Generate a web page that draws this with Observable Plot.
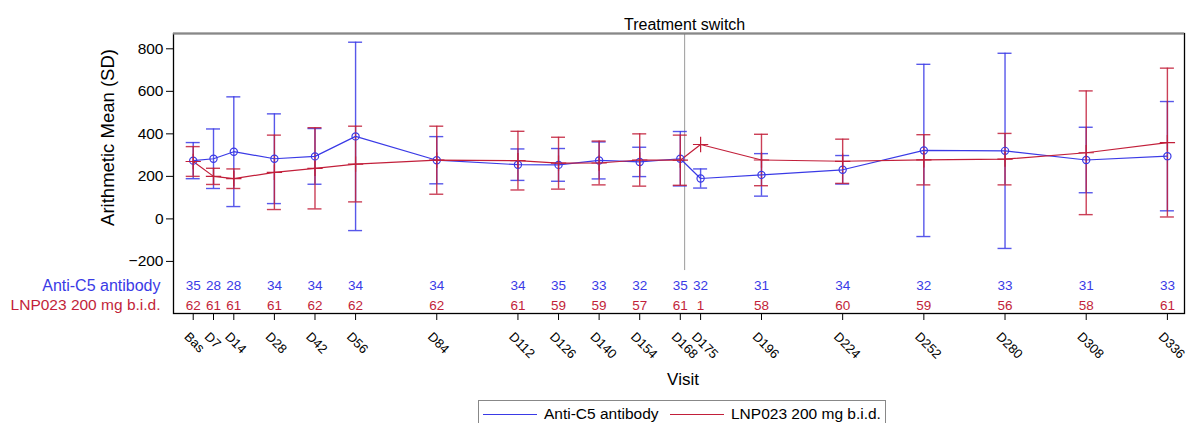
<!DOCTYPE html>
<html>
<head>
<meta charset="utf-8">
<script src="https://cdn.jsdelivr.net/npm/d3@7"></script>
<script src="https://cdn.jsdelivr.net/npm/@observablehq/plot@0.6"></script>
<style>
  html, body { margin: 0; padding: 0; background: #fff; }
  body { font-family: "Liberation Sans", Arial, sans-serif; width: 1191px; height: 423px; overflow: hidden; position: relative; }
  #legend { position: absolute; left: 478px; top: 400px; width: 408px; height: 30px; border: 1px solid #888; box-sizing: border-box; font-size: 15.5px; color: #000; }
  #legend .item { position: absolute; top: 4px; display: flex; align-items: center; }
  #legend .sw { display: inline-block; width: 54px; height: 0; border-top: 1.3px solid; margin-right: 7px; }
</style>
</head>
<body>
<div id="chart"></div>
<div id="legend"></div>
<script>
// ---- data ----
const visits = ["Bas","D7","D14","D28","D42","D56","D84","D112","D126","D140","D154","D168","D175","D196","D224","D252","D280","D308","D336"];
const days   = [0,7,14,28,42,56,84,112,126,140,154,168,175,196,224,252,280,308,336];
const antiMean = [274,283,316,283,294,388,276,255,254,275,268,283,190,207,231,322,320,277,295];
const antiSD   = [85,140,258,211,131,443,111,74,77,87,69,128,45,100,67,405,459,154,257];
const lnpMean  = [270,200,189,219,238,258,276,274,262,263,277,276,350,277,271,278,281,311,359];
const lnpSD    = [70,38,46,175,191,178,160,138,122,103,123,118,null,121,104,118,121,291,350];
const antiN = [35,28,28,34,34,34,34,34,35,33,32,35,32,31,34,32,33,31,33];
const lnpN  = [62,61,61,61,62,62,62,61,59,59,57,61,1,58,60,59,56,58,61];
const yTicks = [-200,0,200,400,600,800];
const seriesNames = ["Anti-C5 antibody","LNP023 200 mg b.i.d."];
const switchDay = 169.5;
const switchLabel = "Treatment switch";

const BLUE = "#3a3ae6";
const RED = "#c21f3a";

const anti = days.map((d,i)=>({day:d, visit:visits[i], mean:antiMean[i], sd:antiSD[i], n:antiN[i]}));
const lnp  = days.map((d,i)=>({day:d, visit:visits[i], mean:lnpMean[i], sd:lnpSD[i], n:lnpN[i]}));
const lnpBars = lnp.filter(d => d.sd != null);

function errorMarks(data, color) {
  return [
    Plot.ruleX(data, {x:"day", y1: d=>d.mean-d.sd, y2: d=>d.mean+d.sd, stroke: color, strokeWidth: 1.4, strokeOpacity: 0.85}),
    Plot.ruleY(data, {y: d=>d.mean+d.sd, x1:"day", x2:"day", insetLeft:-7, insetRight:-7, stroke: color, strokeWidth: 1.4, strokeOpacity: 0.85}),
    Plot.ruleY(data, {y: d=>d.mean-d.sd, x1:"day", x2:"day", insetLeft:-7, insetRight:-7, stroke: color, strokeWidth: 1.4, strokeOpacity: 0.85})
  ];
}

const chart = Plot.plot({
  width: 1191,
  height: 398,
  marginLeft: 173,
  marginRight: 7,
  marginTop: 33,
  marginBottom: 85,
  style: {fontFamily: "'Liberation Sans', Arial, sans-serif", color: "#000", background: "#fff"},
  x: {domain: [-6.8, 341.9]},
  y: {domain: [-445, 872]},
  marks: [
    Plot.ruleX([switchDay], {y1: 872, y2: -243, stroke: "#9a9a9a", strokeWidth: 1}),
    Plot.text([switchLabel], {x: switchDay, frameAnchor: "top", dy: -15, fontSize: 16, fill: "#000"}),
    ...errorMarks(anti, BLUE),
    ...errorMarks(lnpBars, RED),
    Plot.line(anti, {x:"day", y:"mean", stroke: BLUE, strokeWidth: 1.2}),
    Plot.line(lnp, {x:"day", y:"mean", stroke: RED, strokeWidth: 1.2}),
    Plot.dot(anti, {x:"day", y:"mean", r: 3.6, stroke: BLUE, fill: "none", strokeWidth: 1.2}),
    Plot.dot(lnp, {x:"day", y:"mean", r: 5, symbol: "plus", stroke: RED, fill: "none", strokeWidth: 1.2}),
    // counts table
    Plot.text(anti, {x:"day", text: d=>String(d.n), frameAnchor: "bottom", dy: -28, fill: BLUE, fontSize: 13.5, lineAnchor: "middle"}),
    Plot.text(lnp, {x:"day", text: d=>String(d.n), frameAnchor: "bottom", dy: -8, fill: RED, fontSize: 13.5, lineAnchor: "middle"}),
    Plot.text([seriesNames[0]], {frameAnchor: "bottom-left", dx: -13, dy: -28, textAnchor: "end", lineAnchor: "middle", fill: BLUE, fontSize: 16}),
    Plot.text([seriesNames[1]], {frameAnchor: "bottom-left", dx: -13, dy: -8, textAnchor: "end", lineAnchor: "middle", fill: RED, fontSize: 15.5}),
    // axes
    Plot.axisY({ticks: yTicks, tickSize: 7, tickPadding: 3, fontSize: 15.5, label: null}),
    Plot.axisX({ticks: days, tickFormat: () => "", tickSize: 7, label: null}),
    Plot.text(anti, {x: "day", text: "visit", frameAnchor: "bottom", dx: -6.7, dy: 21, rotate: 45, textAnchor: "start", lineAnchor: "middle", fontSize: 13}),
    Plot.text(["Visit"], {frameAnchor: "bottom", dx: 4, dy: 66, fontSize: 17, lineAnchor: "middle"}),
    Plot.text(["Arithmetic Mean (SD)"], {frameAnchor: "top-left", dx: -65, dy: 104, rotate: -90, textAnchor: "middle", fontSize: 18.5, lineAnchor: "middle"}),
    Plot.frame({stroke: "#000", strokeWidth: 1.3}),
    Plot.ruleY([872], {stroke: "#888", strokeWidth: 2})
  ]
});
document.getElementById("chart").appendChild(chart);

const legend = document.getElementById("legend");
[[seriesNames[0], BLUE, 4], [seriesNames[1], RED, 191]].forEach(([name, color, left]) => {
  const item = document.createElement("div");
  item.className = "item";
  item.style.left = left + "px";
  const sw = document.createElement("span");
  sw.className = "sw";
  sw.style.borderTopColor = color;
  const t = document.createElement("span");
  t.textContent = name;
  item.appendChild(sw); item.appendChild(t);
  legend.appendChild(item);
});
</script>
</body>
</html>
